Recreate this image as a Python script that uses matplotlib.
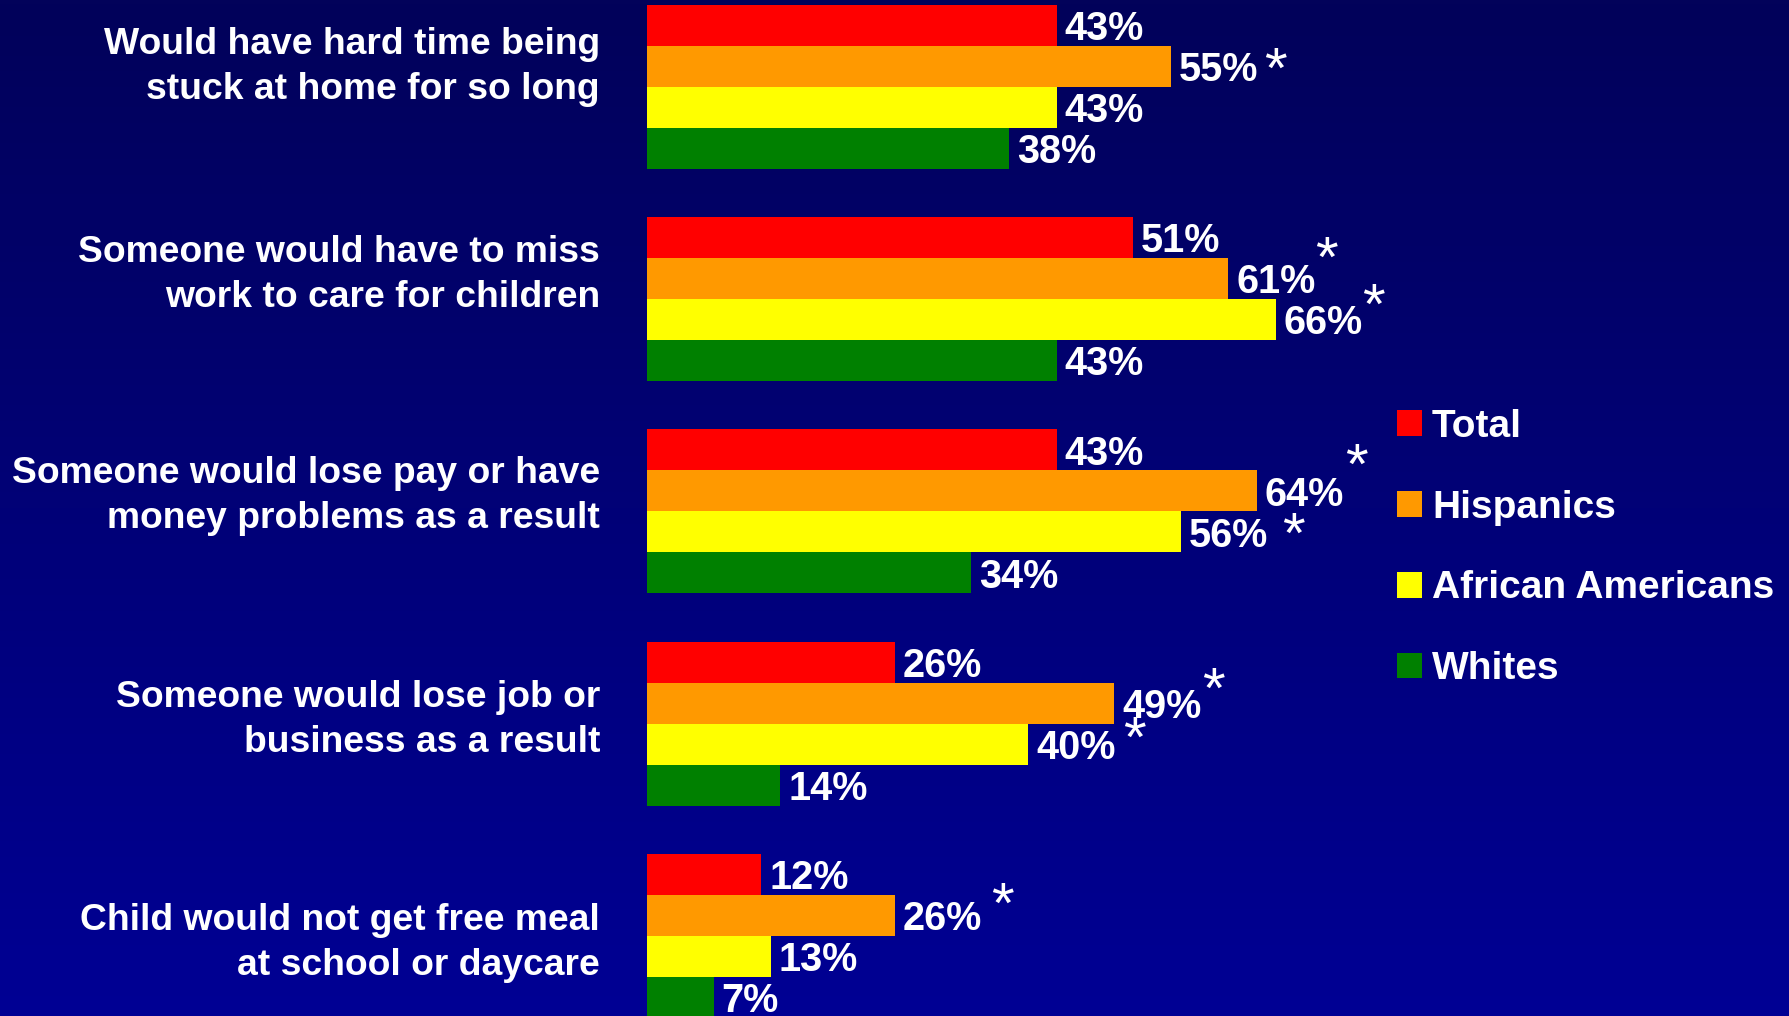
import numpy as np
import matplotlib
matplotlib.use("Agg")
import matplotlib.pyplot as plt
from matplotlib.colors import LinearSegmentedColormap
from matplotlib.font_manager import FontProperties

# ---- data -------------------------------------------------------------
categories = [
    "Would have hard time being\nstuck at home for so long",
    "Someone would have to miss\nwork to care for children",
    "Someone would lose pay or have\nmoney problems as a result",
    "Someone would lose job or\nbusiness as a result",
    "Child would not get free meal\nat school or daycare",
]
series_names = ["Total", "Hispanics", "African Americans", "Whites"]
total = [43, 51, 43, 26, 12]
hispanics = [55, 61, 64, 49, 26]
african_americans = [43, 66, 56, 40, 13]
whites = [38, 43, 34, 14, 7]

# statistically significant difference flags (shown with an asterisk)
hispanics_sig = [True, True, True, True, True]
african_americans_sig = [False, True, True, True, False]

# ---- styling / layout -------------------------------------------------
colors = ["#FF0000", "#FF9900", "#FFFF00", "#008000"]
W, H, DPI = 1790, 1016, 100
X0_PX = 647            # x pixel of the 0% baseline
PX_PER_PCT = 9.53      # horizontal pixels per percentage point
PITCH_PX = 212.3       # vertical distance between category groups
FIRST_CENTER_PX = 86.6 # centre of the first group from the top
BAR_PX = 41            # thickness of one bar

# baseline of the last label line, relative to the group centre (px)
label_offsets_px = [12, 8, 17, 28, 39]
# asterisk placement: (dx from bar end, dy of glyph centre from bar centre) in px
ast_layout = {
    (1, 0): (104, -3), (1, 1): (98, -26), (1, 2): (99, -31),
    (1, 3): (99, -20), (1, 4): (108, -17),
    (2, 1): (97, -20), (2, 2): (113, -3), (2, 3): (106, -12),
}

def dx(px):
    return px / PX_PER_PCT

def dy(px):
    return px / PITCH_PX

fig = plt.figure(figsize=(W / DPI, H / DPI), dpi=DPI)

# background: vertical navy gradient
bg = fig.add_axes([0, 0, 1, 1])
cmap = LinearSegmentedColormap.from_list("navy", ["#02025A", "#000094"])
bg.imshow(np.linspace(0, 1, 256).reshape(-1, 1), aspect="auto", cmap=cmap,
          extent=[0, 1, 0, 1], origin="upper")
bg.axis("off")

ax = fig.add_axes([0, 0, 1, 1])
ax.set_facecolor("none")
ax.set_xlim(-X0_PX / PX_PER_PCT, (W - X0_PX) / PX_PER_PCT)
ax.set_ylim((H - FIRST_CENTER_PX) / PITCH_PX, -FIRST_CENTER_PX / PITCH_PX)
ax.axis("off")

value_font = dict(family="Liberation Sans", weight="bold", size=28.5, color="white")
label_font = dict(family="Liberation Sans", weight="bold", size=26.8, color="white")
ast_size = 42
ast_em = ast_size * DPI / 72.0

series = [total, hispanics, african_americans, whites]
sig_flags = [None, hispanics_sig, african_americans_sig, None]
bar_h = BAR_PX / PITCH_PX
y = np.arange(len(categories))

handles = []
for j, (vals, name, color) in enumerate(zip(series, series_names, colors)):
    ypos = y + (j - 1.5) * bar_h
    bars = ax.barh(ypos, vals, height=bar_h, color=color, label=name,
                   linewidth=0, antialiased=False)
    handles.append(bars)
    for i, (yi, v) in enumerate(zip(ypos, vals)):
        ax.text(v + dx(8), yi + dy(15), f"{v}%", ha="left", va="baseline",
                **value_font)
        flags = sig_flags[j]
        if flags is not None and flags[i]:
            ox, oy = ast_layout[(j, i)]
            ax.text(v + dx(ox), yi + dy(oy + 0.575 * ast_em - 9), "*",
                    ha="center", va="baseline", color="white",
                    family="Liberation Sans", size=ast_size)

for i, lab in enumerate(categories):
    ax.text(dx(600 - X0_PX), i + dy(label_offsets_px[i]), lab, ha="right",
            va="baseline", linespacing=1.37, multialignment="right", **label_font)

leg_fs = 28
leg_em = leg_fs * DPI / 72.0
ax.legend(handles=handles, loc="upper left",
          bbox_to_anchor=(1397 / W, 1 - 409 / H), bbox_transform=fig.transFigure,
          frameon=False, borderpad=0, borderaxespad=0,
          handlelength=25 / leg_em, handleheight=25 / leg_em,
          handletextpad=10 / leg_em, labelspacing=1.15,
          prop=FontProperties(family="Liberation Sans", weight="bold", size=leg_fs),
          labelcolor="white")

fig.savefig("out.png", dpi=DPI)
